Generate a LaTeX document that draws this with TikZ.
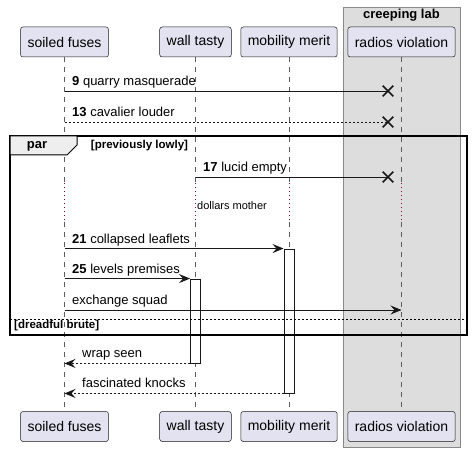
\documentclass[tikz,border=0pt]{standalone}
\usepackage{fontspec}
\setmainfont{Liberation Sans}
\usetikzlibrary{arrows.meta,shapes.misc}
\definecolor{partfill}{HTML}{E2E2F0}
\definecolor{linecol}{HTML}{181818}
\definecolor{boxfill}{HTML}{DDDDDD}
\definecolor{boxline}{HTML}{888888}
\definecolor{delaycol}{HTML}{8C0A3C}
\definecolor{tabfill}{HTML}{EEEEEE}

\begin{document}
\begin{tikzpicture}[x=1pt, y=-1pt,
  participant/.style={draw=linecol, fill=partfill, rounded corners=2.5pt, line width=0.5pt, minimum height=30pt, inner xsep=7pt, inner ysep=0pt, font=\fontsize{14}{16}\selectfont},
  life/.style={draw=linecol!70, dash pattern=on 5pt off 5pt, line width=0.7pt},
  delay/.style={draw=delaycol, dash pattern=on 1pt off 3pt, line width=0.9pt},
  msg/.style={draw=linecol, line width=0.9pt, -{Stealth[length=11pt,width=9pt,inset=4pt]}},
  plain/.style={draw=linecol, line width=0.9pt},
  ret/.style={msg, dash pattern=on 2pt off 2pt},
  kill/.style={draw=linecol, cross out, line width=1.6pt, minimum size=9pt, inner sep=0pt},
  act/.style={draw=linecol, fill=white, line width=0.9pt, minimum width=10pt, inner sep=0pt},
  lbl/.style={font=\fontsize{13}{15}\selectfont, inner sep=0pt},
  guard/.style={font=\bfseries\fontsize{11.5}{13}\selectfont, inner sep=0pt}]

  \useasboundingbox (0,0) rectangle (472,452);

  % group box
  \draw[fill=boxfill, draw=boxline, line width=0.8pt] (343,7) rectangle (460,447);
  \node[font=\bfseries\fontsize{13}{15}\selectfont, anchor=base] (lab) at (401.5,19) {creeping lab};

  % participants
  \node[participant] (sf) at (64.5,42) {soiled fuses};
  \node[participant] (wt) at (195.5,42) {wall tasty};
  \node[participant] (mm) at (289,42) {mobility merit};
  \node[participant] (rv) at (401.5,42) {radios violation};
  \node[participant] (sf2) at (64.5,426.5) {soiled fuses};
  \node[participant] (wt2) at (195.5,426.5) {wall tasty};
  \node[participant] (mm2) at (289,426.5) {mobility merit};
  \node[participant] (rv2) at (401.5,426.5) {radios violation};

  % lifelines, dotted during the delay
  \coordinate (d1) at (0,183);
  \coordinate (d2) at (0,222);
  \foreach \p in {sf,wt,mm,rv} {
    \draw[life] (\p.south) -- (\p.south |- d1);
    \draw[delay] (\p.south |- d1) -- (\p.south |- d2);
    \draw[life] (\p.south |- d2) -- (\p2.north);
  }

  % activations
  \node[act, minimum height=84pt] (wta) at (195.5,321) {};
  \node[act, minimum height=144pt] (mma) at (289,321) {};

  % par frame
  \draw[draw=black, line width=1.6pt] (10,136) rectangle (467,335);
  \draw[draw=black, line width=1pt, fill=tabfill] (10,136) -- (77,136) -- (77,145) -- (67,155) -- (10,155) -- cycle;
  \node[font=\bfseries\fontsize{13}{15}\selectfont] (par) at (37,146) {par};
  \node[guard] (g1) at (139.5,146) {[previously lowly]};
  \draw[draw=black, line width=0.7pt, dash pattern=on 2pt off 2pt] (10,319) -- (467,319);
  \node[guard, anchor=west] (g2) at (14,325.5) {[dreadful brute]};

  % messages
  \node[kill] (k9) at (388,91) {};
  \draw[plain] (sf |- k9) -- (k9.center);
  \path (sf |- k9) ++(7.5,-5.5) node[lbl, anchor=base west] (t9) {\textbf{9} quarry masquerade};

  \node[kill] (k13) at (388,122) {};
  \draw[plain, dash pattern=on 2pt off 2pt] (sf |- k13) -- (k13.center);
  \path (sf |- k13) ++(7.5,-5.5) node[lbl, anchor=base west] (t13) {\textbf{13} cavalier louder};

  \node[kill] (k17) at (388,177) {};
  \draw[plain] (wt |- k17) -- (k17.center);
  \path (wt |- k17) ++(7.5,-5.5) node[lbl, anchor=base west] (t17) {\textbf{17} lucid empty};

  \node[font=\fontsize{11}{13}\selectfont] (dm) at (232,206) {dollars mother};

  \draw[msg] (sf |- mma.north) -- (mma.north west);
  \path (sf |- mma.north) ++(7.5,-5.5) node[lbl, anchor=base west] (t21) {\textbf{21} collapsed leaflets};

  \draw[msg] (sf |- wta.north) -- (wta.north west);
  \path (sf |- wta.north) ++(7.5,-5.5) node[lbl, anchor=base west] (t25) {\textbf{25} levels premises};

  \coordinate (ex) at (0,310);
  \draw[msg] (sf |- ex) -- (rv |- ex);
  \path (sf |- ex) ++(7.5,-5.5) node[lbl, anchor=base west] (tex) {exchange squad};

  \draw[ret] (wta.south west) -- (sf |- wta.south);
  \path (sf |- wta.south) ++(17.5,-5.5) node[lbl, anchor=base west] (tws) {wrap seen};

  \draw[ret] (mma.south west) -- (sf |- mma.south);
  \path (sf |- mma.south) ++(17.5,-5.5) node[lbl, anchor=base west] (tfk) {fascinated knocks};

\end{tikzpicture}
\end{document}
